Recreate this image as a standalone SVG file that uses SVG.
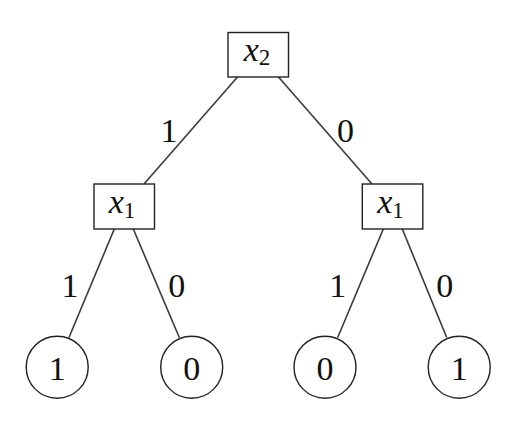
<svg xmlns="http://www.w3.org/2000/svg" width="526" height="424" viewBox="0 0 526 424">
<style>
.box{fill:#fff;stroke:#222;stroke-width:1.4}
.leaf{fill:#fff;stroke:#222;stroke-width:1.4}
.edge{stroke:#3a3a3a;stroke-width:1.6;fill:none}
</style>
<rect width="526" height="424" fill="#fff"/>
<g font-family="Liberation Serif, serif" font-size="34" fill="#111" text-anchor="middle">
<g id="connectors">
<line class="edge" x1="237.5" y1="77" x2="144" y2="184"/>
<line class="edge" x1="278.5" y1="77" x2="372" y2="184"/>
<line class="edge" x1="114.3" y1="229" x2="69" y2="337.5"/>
<line class="edge" x1="133.3" y1="229" x2="179.3" y2="337.5"/>
<line class="edge" x1="383.3" y1="229" x2="337.7" y2="337.5"/>
<line class="edge" x1="402.3" y1="229" x2="446.7" y2="337.5"/>
<text x="169" y="142">1</text>
<text x="345.5" y="142">0</text>
<text x="70" y="296.5">1</text>
<text x="176.7" y="296.5">0</text>
<text x="337.7" y="296.5">1</text>
<text x="444.7" y="296.5">0</text>
</g>
<g id="n_x2">
<rect class="box" x="228" y="32.5" width="60.5" height="44.5"/>
<text x="257" y="61"><tspan font-style="italic">x</tspan><tspan font-size="23" dy="4">2</tspan></text>
</g>
<g id="n_x1_left">
<rect class="box" x="94" y="184" width="60.5" height="45"/>
<text x="122" y="212.7"><tspan font-style="italic">x</tspan><tspan font-size="23" dy="5">1</tspan></text>
</g>
<g id="n_x1_right">
<rect class="box" x="362.3" y="184" width="60.5" height="45"/>
<text x="390.5" y="212.7"><tspan font-style="italic">x</tspan><tspan font-size="23" dy="5">1</tspan></text>
</g>
<g id="leaf1">
<circle class="leaf" cx="57.2" cy="367.2" r="31"/>
<text x="57.2" y="380">1</text>
</g>
<g id="leaf2">
<circle class="leaf" cx="191.7" cy="367.2" r="31"/>
<text x="191.7" y="380">0</text>
</g>
<g id="leaf3">
<circle class="leaf" cx="325" cy="367.2" r="31"/>
<text x="325" y="380">0</text>
</g>
<g id="leaf4">
<circle class="leaf" cx="459.2" cy="367.2" r="31"/>
<text x="459.2" y="380">1</text>
</g>
</g>
</svg>
